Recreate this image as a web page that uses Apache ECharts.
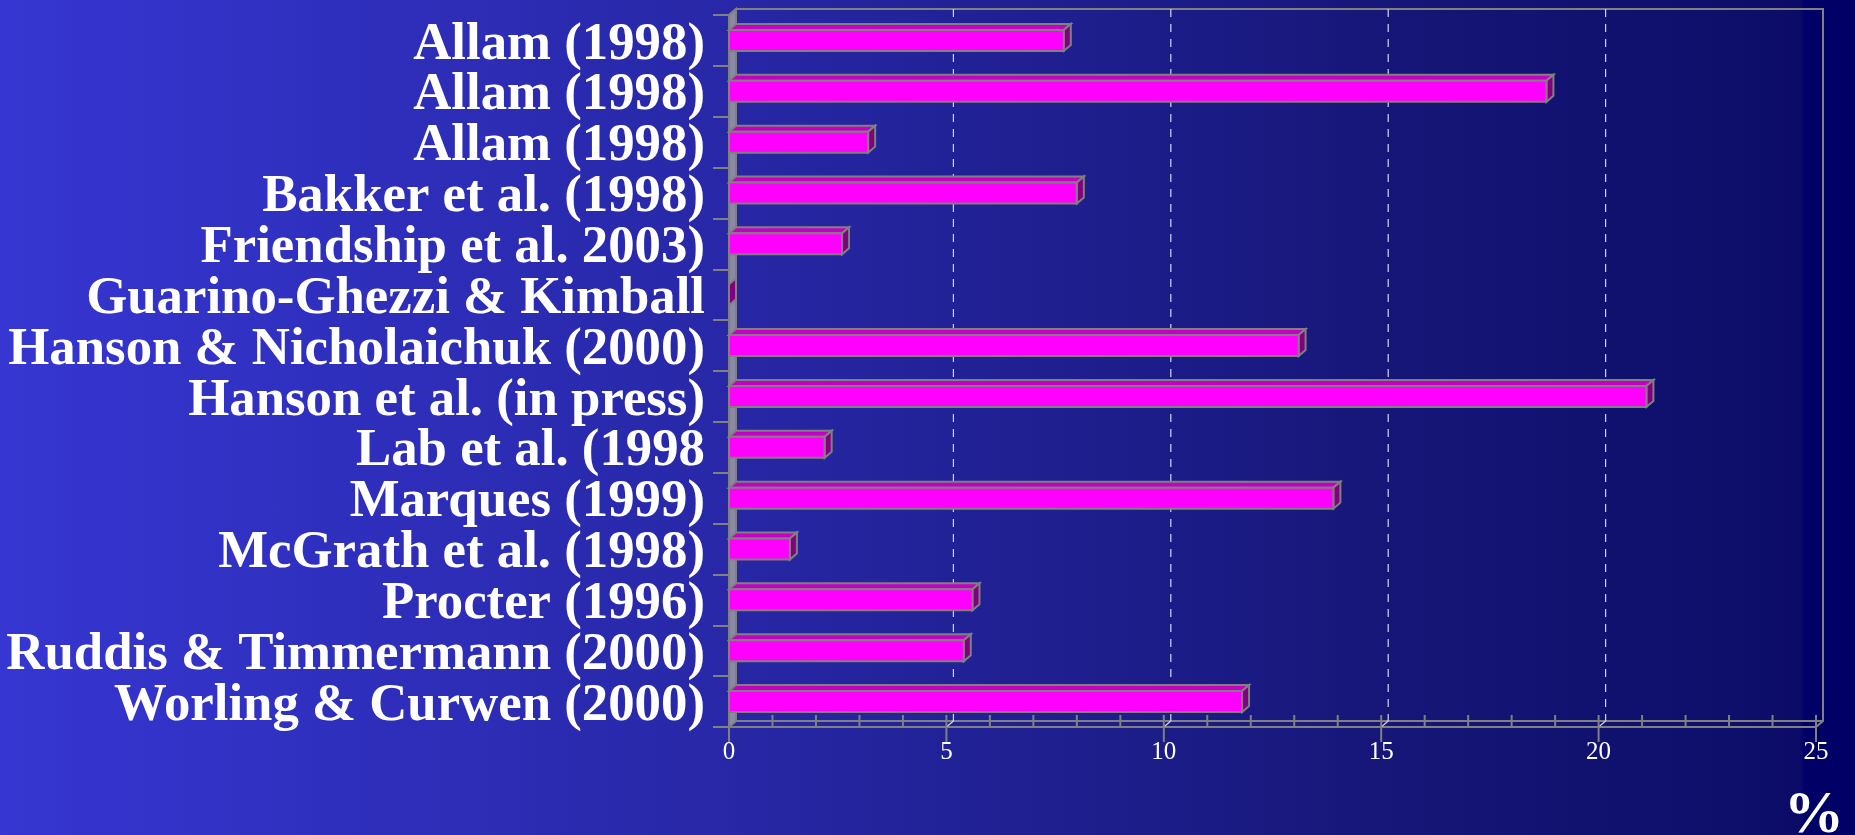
<!DOCTYPE html>
<html>
<head>
<meta charset="utf-8">
<script src="https://cdn.jsdelivr.net/npm/echarts@6/dist/echarts.min.js"></script>
<style>
html,body{margin:0;padding:0;width:1855px;height:835px;overflow:hidden;
background:linear-gradient(to right,#3636d2 0%,#2727a6 40%,#161678 75%,#0c0c68 97%,#000066 97.3%,#000066 100%);}
#main{width:1855px;height:835px;}
</style>
</head>
<body>
<div id="main"></div>
<script>
const categories = [
  'Allam (1998)',
  'Allam (1998)',
  'Allam (1998)',
  'Bakker et al. (1998)',
  'Friendship et al. 2003)',
  'Guarino-Ghezzi & Kimball',
  'Hanson & Nicholaichuk (2000)',
  'Hanson et al. (in press)',
  'Lab et al. (1998',
  'Marques (1999)',
  'McGrath et al. (1998)',
  'Procter (1996)',
  'Ruddis & Timmermann (2000)',
  'Worling & Curwen (2000)'
];
const values = [7.7, 18.8, 3.2, 8.0, 2.6, 0, 13.1, 21.1, 2.2, 13.9, 1.4, 5.6, 5.4, 11.8];
const xMin = 0, xMax = 25, xInterval = 5;
const unitLabel = '%';

const DX = 7, DY = 6;
const GRAY = '#808080';

function renderFrame(params, api) {
  const n = categories.length;
  const c0 = api.coord([xMin, 0]);
  const band = api.size([0, 1])[1];
  const L = c0[0];
  const T = c0[1] - band / 2;
  const B = T + band * n;
  const R = api.coord([xMax, 0])[0];
  const ch = [];
  ch.push({type:'polygon', shape:{points:[[L,B],[L,T],[L+DX,T-DY],[L+DX,B-DY]]},
    style:{fill:'#8a8aa6', stroke:GRAY, lineWidth:2}});
  ch.push({type:'polyline', shape:{points:[[L,T],[L+DX,T-DY],[R+DX,T-DY],[R+DX,B-DY],[R,B]]},
    style:{fill:null, stroke:GRAY, lineWidth:2}});
  ch.push({type:'line', shape:{x1:L+DX,y1:B-DY,x2:R+DX,y2:B-DY}, style:{stroke:GRAY, lineWidth:2}});
  for (let v = xMin + xInterval; v < xMax; v += xInterval) {
    const x = api.coord([v, 0])[0];
    ch.push({type:'line', shape:{x1:x+DX,y1:T-DY,x2:x+DX,y2:B-DY},
      style:{stroke:'#d4d4f0', lineWidth:1.2, lineDash:[8,7]}});
    ch.push({type:'line', shape:{x1:x,y1:B,x2:x+DX,y2:B-DY},
      style:{stroke:'#d4d4f0', lineWidth:1.2}});
  }
  for (let v = xMin; v <= xMax; v += 1) {
    const x = api.coord([v, 0])[0];
    const major = (v % xInterval === 0);
    ch.push({type:'line', shape:{x1:x,y1:B-12,x2:x,y2:major ? B+15 : B},
      style:{stroke:GRAY, lineWidth:2}});
  }
  return {type:'group', children:ch};
}

function renderBar(params, api) {
  const v = api.value(0), c = api.value(1);
  const p0 = api.coord([xMin, c]);
  const p1 = api.coord([v, c]);
  const band = api.size([0, 1])[1];
  const h = band * 0.413;
  const x0 = p0[0], x1 = p1[0];
  const yT = p0[1] - h / 2, yB = p0[1] + h / 2;
  return {type:'group', children:[
    {type:'polygon', shape:{points:[[x0,yT],[x0+DX,yT-DY],[x1+DX,yT-DY],[x1,yT]]},
      style:{fill:'#c400c4', stroke:GRAY, lineWidth:2}},
    {type:'polygon', shape:{points:[[x1,yT],[x1+DX,yT-DY],[x1+DX,yB-DY],[x1,yB]]},
      style:{fill:'#800080', stroke:GRAY, lineWidth:2}},
    {type:'rect', shape:{x:x0,y:yT,width:x1-x0,height:yB-yT},
      style:{fill:'#ff00ff', stroke:GRAY, lineWidth:2}}
  ]};
}

const chart = echarts.init(document.getElementById('main'), null, {renderer:'canvas'});
chart.setOption({
  backgroundColor: 'transparent',
  animation: false,
  grid: {left: 729, right: 39, top: 15, bottom: 108, containLabel: false},
  xAxis: {
    type: 'value', min: xMin, max: xMax, interval: xInterval,
    axisLine: {show: true, lineStyle: {color: GRAY, width: 2}},
    axisTick: {show: false},
    splitLine: {show: false},
    axisLabel: {color: '#ffffff', fontSize: 25, fontFamily: 'Liberation Serif', margin: 13}
  },
  yAxis: {
    type: 'category', inverse: true, data: categories,
    axisLine: {show: true, lineStyle: {color: GRAY, width: 2}},
    axisTick: {show: true, length: 16, lineStyle: {color: GRAY, width: 2}},
    splitLine: {show: false},
    axisLabel: {color: '#ffffff', fontSize: 52.8, fontWeight: 'bold', fontFamily: 'Liberation Serif',
      margin: 24, interval: 0, hideOverlap: false, verticalAlign: 'top', lineHeight: 9}
  },
  graphic: [{
    type: 'text', x: 1784, y: 786, silent: true,
    style: {text: unitLabel, fontSize: 60, fontWeight: 'bold', fontFamily: 'Liberation Serif', fill: '#ffffff', verticalAlign: 'top'}
  }],
  series: [
    {type: 'custom', name: 'frame', renderItem: renderFrame, data: [[0, 0]], encode: {x: 0, y: 1}, z: 1, silent: true, clip: false},
    {type: 'custom', name: 'values', renderItem: renderBar, data: values.map((v, i) => [v, i]), encode: {x: 0, y: 1}, z: 3, clip: false}
  ]
});
</script>
</body>
</html>
